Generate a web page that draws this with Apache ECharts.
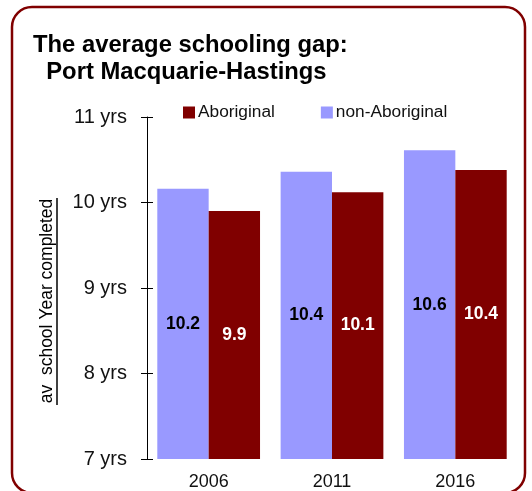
<!DOCTYPE html>
<html>
<head>
<meta charset="utf-8">
<script src="https://cdn.jsdelivr.net/npm/echarts@6/dist/echarts.min.js"></script>
<style>
html,body{margin:0;padding:0;background:#fff;}
#chart{width:532px;height:491px;}
</style>
</head>
<body>
<div id="chart"></div>
<script>
var categories = ['2006', '2011', '2016'];
var nonAboriginal = [10.16, 10.36, 10.61];
var aboriginal = [9.90, 10.12, 10.38];
var nonAboriginalLabels = ['10.2', '10.4', '10.6'];
var aboriginalLabels = ['9.9', '10.1', '10.4'];
var yTicks = ['7 yrs', '8 yrs', '9 yrs', '10 yrs', '11 yrs'];

var chart = echarts.init(document.getElementById('chart'));
var FONT = 'Liberation Sans, Arial, sans-serif';

chart.setOption({
  animation: false,
  backgroundColor: '#fff',
  title: {
    text: 'The average schooling gap:\n  Port Macquarie-Hastings',
    left: 28, top: 27,
    textStyle: { fontFamily: FONT, fontWeight: 'bold', fontSize: 23.8, lineHeight: 27, color: '#000' }
  },
  legend: {
    data: ['Aboriginal', 'non-Aboriginal'],
    left: 178, top: 99,
    icon: 'rect', itemWidth: 12, itemHeight: 12, itemGap: 46,
    textStyle: { fontFamily: FONT, fontSize: 17.3, color: '#111', padding: [0, 0, 0, -2] }
  },
  grid: { left: 147, right: 15, top: 117, bottom: 32 },
  xAxis: {
    type: 'category', data: categories,
    axisLine: { show: false }, axisTick: { show: false },
    axisLabel: { fontFamily: FONT, fontSize: 18, color: '#111', margin: 14 }
  },
  yAxis: [{
    type: 'value', min: 7, max: 11, interval: 1,
    axisLine: { show: true, lineStyle: { color: '#000', width: 1 } },
    axisTick: { show: true, length: 6, lineStyle: { color: '#000' } },
    splitLine: { show: false },
    axisLabel: { fontFamily: FONT, fontSize: 20, color: '#111', margin: 20,
      formatter: function (v) { return yTicks[Math.round(v - 7)]; } }
  }, {
    type: 'value', min: 7, max: 11, interval: 1, position: 'left',
    axisLine: { show: false },
    axisTick: { show: true, inside: true, length: 6, lineStyle: { color: '#000' } },
    splitLine: { show: false },
    axisLabel: { show: false }
  }],
  series: [{
    name: 'non-Aboriginal', type: 'bar', data: nonAboriginal,
    barGap: '0%', barCategoryGap: '16.7%',
    itemStyle: { color: '#9999ff' },
    label: { show: true, position: 'inside', fontFamily: FONT, fontWeight: 'bold', fontSize: 17.5, color: '#000',
      formatter: function (p) { return nonAboriginalLabels[p.dataIndex]; } }
  }, {
    name: 'Aboriginal', type: 'bar', data: aboriginal,
    itemStyle: { color: '#800000' },
    label: { show: true, position: 'inside', fontFamily: FONT, fontWeight: 'bold', fontSize: 17.5, color: '#fff',
      formatter: function (p) { return aboriginalLabels[p.dataIndex]; } }
  }],
  graphic: [{
    type: 'rect', silent: true, z: -1,
    shape: { x: 12, y: 7, width: 513, height: 486, r: 20 },
    style: { fill: 'none', stroke: '#800000', lineWidth: 2.5 }
  }, {
    type: 'text', x: 47, y: 301, rotation: Math.PI / 2,
    style: { text: 'av  school Year completed', font: '17.5px ' + FONT, fill: '#000',
      textAlign: 'center', textVerticalAlign: 'middle' }
  }, {
    type: 'line', shape: { x1: 57, y1: 198, x2: 57, y2: 405 },
    style: { stroke: '#000', lineWidth: 1.5 }
  }]
});
</script>
</body>
</html>
